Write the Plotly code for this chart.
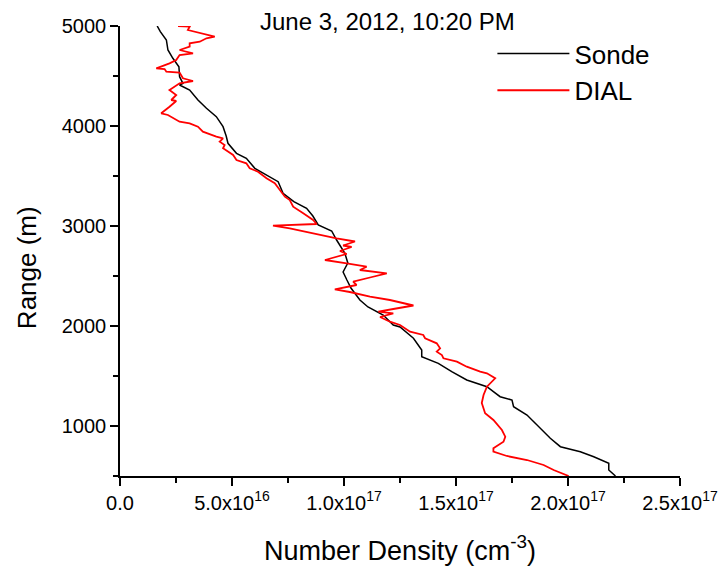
import plotly.graph_objects as go

# Sonde profile: number density (cm^-3) vs range (m)
sonde_density = [1.66e16, 1.80e16, 2.07e16, 2.14e16, 2.36e16, 2.63e16, 2.66e16, 2.81e16, 2.66e16,
                 3.11e16, 3.48e16, 3.86e16, 4.30e16, 4.60e16, 4.74e16, 4.82e16, 5.20e16, 5.64e16,
                 6.02e16, 6.54e16, 7.06e16, 7.28e16, 7.76e16, 8.33e16, 8.61e16, 8.85e16, 9.45e16,
                 9.67e16, 10.04e16, 10.17e16, 9.96e16, 10.13e16, 10.31e16, 10.71e16, 11.07e16,
                 11.75e16, 12.20e16, 12.50e16, 13.10e16, 13.47e16, 13.47e16, 14.21e16, 14.81e16,
                 15.48e16, 16.38e16, 16.67e16, 16.97e16, 17.50e16, 17.57e16, 18.17e16, 18.61e16,
                 19.21e16, 19.66e16, 20.55e16, 21.15e16, 21.82e16, 21.82e16, 22.12e16]
sonde_range = [5000, 4943, 4860, 4760, 4677, 4593, 4493, 4427, 4410,
               4360, 4260, 4177, 4093, 3993, 3900, 3827, 3727, 3677,
               3577, 3510, 3443, 3327, 3243, 3177, 3100, 3010, 2950,
               2860, 2727, 2630, 2540, 2460, 2380, 2260, 2190,
               2110, 2010, 1990, 1877, 1760, 1693, 1627, 1543,
               1460, 1393, 1343, 1293, 1260, 1193, 1110, 1010,
               877, 793, 743, 693, 627, 560, 500]

# DIAL profile
dial_density = [2.59e16, 3.11e16, 3.03e16, 3.56e16, 4.23e16, 3.86e16, 3.56e16, 3.11e16, 3.11e16,
                2.66e16, 3.26e16, 2.66e16, 2.51e16, 2.21e16, 1.84e16, 1.62e16, 1.99e16, 2.07e16,
                2.66e16, 2.81e16, 3.26e16, 2.89e16, 2.66e16, 2.21e16, 2.51e16, 2.29e16, 2.51e16,
                2.21e16, 1.84e16, 2.14e16, 2.66e16, 3.11e16, 3.48e16, 3.70e16, 4.30e16, 4.60e16,
                4.45e16, 4.67e16, 4.60e16, 5.05e16, 5.20e16, 5.64e16, 5.79e16, 6.16e16, 6.54e16,
                6.91e16, 7.21e16, 7.36e16, 7.58e16, 7.73e16, 8.18e16, 8.62e16, 8.78e16, 6.83e16,
                7.58e16, 8.62e16, 9.67e16, 10.49e16, 9.96e16, 10.34e16, 9.82e16, 10.12e16, 9.37e16,
                9.15e16, 10.12e16, 11.01e16, 10.71e16, 11.91e16, 11.16e16, 10.41e16, 10.56e16,
                9.59e16, 10.26e16, 11.16e16, 12.05e16, 13.10e16, 12.20e16, 11.53e16, 12.20e16,
                11.61e16, 12.05e16, 12.50e16, 12.95e16, 13.54e16, 13.62e16, 14.14e16, 14.29e16,
                14.14e16, 14.37e16, 14.44e16, 15.04e16, 15.48e16, 16.08e16, 16.38e16, 16.75e16,
                16.60e16, 16.38e16, 16.23e16, 16.15e16, 16.30e16, 16.67e16, 17.05e16, 17.20e16,
                17.12e16, 16.67e16, 16.67e16, 17.27e16, 18.17e16, 18.91e16, 19.36e16, 20.03e16]
dial_range = [5000, 4993, 4960, 4927, 4893, 4877, 4843, 4827, 4793,
              4760, 4727, 4710, 4660, 4627, 4593, 4577, 4570, 4543,
              4535, 4477, 4450, 4440, 4427, 4360, 4310, 4260, 4250,
              4193, 4127, 4110, 4043, 4027, 3993, 3943, 3893, 3877,
              3843, 3810, 3777, 3710, 3660, 3627, 3577, 3543, 3477,
              3427, 3343, 3293, 3260, 3193, 3127, 3060, 3020, 3003,
              2977, 2927, 2877, 2845, 2805, 2790, 2750, 2720, 2675,
              2660, 2627, 2593, 2560, 2527, 2485, 2443, 2410,
              2367, 2340, 2293, 2260, 2205, 2170, 2143, 2127,
              2090, 2043, 2010, 1943, 1910, 1877, 1827, 1777,
              1743, 1710, 1677, 1643, 1593, 1543, 1527, 1477,
              1443, 1393, 1310, 1230, 1127, 1060, 960, 893,
              843, 777, 743, 700, 660, 610, 560, 500]

x_tick_vals = [0, 5e16, 1e17, 1.5e17, 2e17, 2.5e17]
x_tick_text = ["0.0", "5.0x10<sup>16</sup>", "1.0x10<sup>17</sup>", "1.5x10<sup>17</sup>",
               "2.0x10<sup>17</sup>", "2.5x10<sup>17</sup>"]
y_tick_vals = [1000, 2000, 3000, 4000, 5000]

title_text = "June 3, 2012, 10:20 PM"
y_title_text = "Range (m)"
x_title_text = "Number Density (cm<sup>-3</sup>)"
font_family = "Liberation Sans, Arial, sans-serif"

fig = go.Figure()
fig.add_trace(go.Scatter(x=sonde_density, y=sonde_range, mode="lines", name="Sonde",
                         line=dict(color="#000000", width=1.5)))
fig.add_trace(go.Scatter(x=dial_density, y=dial_range, mode="lines", name="DIAL",
                         line=dict(color="#ff0000", width=1.8)))

axis_common = dict(showgrid=False, zeroline=False, showline=True, linecolor="#000000",
                   linewidth=1.5, ticks="outside", ticklen=8, tickwidth=1.5, tickcolor="#000000",
                   mirror=False, automargin=False)

fig.update_xaxes(range=[0, 2.5e17], tickmode="array", tickvals=x_tick_vals, ticktext=x_tick_text,
                 tickfont=dict(family=font_family, size=20, color="#000000"),
                 title=dict(text=x_title_text, standoff=28,
                            font=dict(family=font_family, size=27, color="#000000")),
                 minor=dict(tickmode="linear", tick0=0, dtick=2.5e16, ticklen=5, tickwidth=1.5,
                            tickcolor="#000000", ticks="outside"),
                 **axis_common)
fig.update_yaxes(range=[500, 5000], tickmode="array", tickvals=y_tick_vals,
                 tickfont=dict(family=font_family, size=20, color="#000000"),
                 minor=dict(tickmode="linear", tick0=0, dtick=500, ticklen=5, tickwidth=1.5,
                            tickcolor="#000000", ticks="outside"),
                 **axis_common)

# Y axis title (placed slightly below the plot centre, as in the original)
fig.add_annotation(text=y_title_text, xref="paper", yref="paper", x=-0.166, y=0.462,
                   xanchor="center", yanchor="middle", textangle=-90, showarrow=False,
                   font=dict(family=font_family, size=26, color="#000000"))

fig.add_annotation(text=title_text, xref="paper", yref="paper", x=0.478, y=1.009,
                   xanchor="center", yanchor="middle", showarrow=False,
                   font=dict(family=font_family, size=24, color="#000000"))

fig.update_layout(
    width=725, height=570,
    margin=dict(l=120, r=45, t=26, b=94, autoexpand=False),
    paper_bgcolor="white", plot_bgcolor="white",
    showlegend=True,
    legend=dict(x=0.665, y=0.991, xanchor="left", yanchor="top", bgcolor="rgba(0,0,0,0)",
                borderwidth=0, itemwidth=72, tracegroupgap=0,
                font=dict(family=font_family, size=26, color="#000000")),
    font=dict(family=font_family, color="#000000"),
)

fig.write_html("out.html", config={"displayModeBar": False},
               post_script="document.body.style.margin='0px';")
